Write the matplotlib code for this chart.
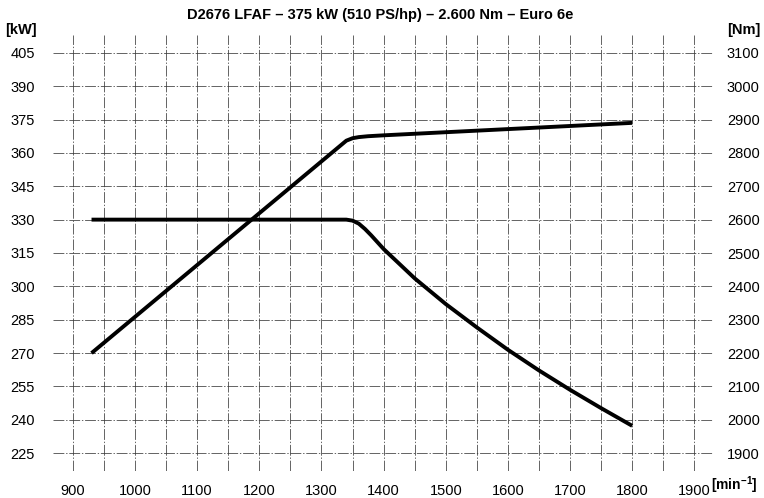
import matplotlib
matplotlib.use("Agg")
import matplotlib.pyplot as plt
import numpy as np

plt.rcParams['font.family'] = ['Liberation Sans', 'DejaVu Sans']

title = "D2676 LFAF \u2013 375 kW (510 PS/hp) \u2013 2.600 Nm \u2013 Euro 6e"

# Power curve (kW)
power_rpm = [930, 1340, 1350, 1360, 1375, 1400, 1500, 1600, 1700, 1800]
power_kw = [270, 365.5, 366.6, 367.1, 367.5, 367.9, 369.3, 370.7, 372.1, 373.5]

# Torque curve (Nm)
torque_rpm = [930, 1000, 1100, 1200, 1300, 1340, 1350, 1360, 1370, 1380, 1400,
              1450, 1500, 1550, 1600, 1650, 1700, 1750, 1800]
torque_nm = [2600, 2600, 2600, 2600, 2600, 2600, 2597, 2588, 2572, 2553, 2512,
             2424, 2347, 2277, 2210, 2148, 2090, 2035, 1982]

kw_ticks = list(range(225, 406, 15))
nm_ticks = list(range(1900, 3101, 100))
rpm_ticks = list(range(900, 1901, 100))

fig = plt.figure(figsize=(7.64, 4.98), dpi=100)
ax = fig.add_axes([53/764, 1-471/498, (713-53)/764, (471-35)/498])
ax2 = ax.twinx()

kw_lo, kw_hi = 217, 413
ax.set_ylim(kw_lo, kw_hi)
ax2.set_ylim(1900 + (kw_lo-225)*100/15, 1900 + (kw_hi-225)*100/15)
ax.set_xlim(868, 1930)

grid_kw = dict(color='#3a3a3a', lw=0.65, linestyle=(0, (12, 2, 1.5, 2)), alpha=0.85)
for y in kw_ticks:
    ax.axhline(y, **grid_kw, zorder=1)
for x in np.arange(900, 1901, 50):
    ax.axvline(x, **grid_kw, zorder=1)

ax.plot(power_rpm, power_kw, color='black', lw=2.8, solid_capstyle='butt',
        solid_joinstyle='round', zorder=3)
ax2.plot(torque_rpm, torque_nm, color='black', lw=2.8, solid_capstyle='butt',
         solid_joinstyle='round', zorder=3)

ax.set_yticks(kw_ticks)
ax.set_yticklabels([str(v) for v in kw_ticks])
ax2.set_yticks(nm_ticks)
ax2.set_yticklabels([str(v) for v in nm_ticks])
ax.set_xticks(rpm_ticks)
ax.set_xticklabels([str(v) for v in rpm_ticks])

ax.tick_params(axis='y', length=0, pad=13, labelsize=10.5)
ax2.tick_params(axis='y', length=0, pad=10, labelsize=10.5)
ax.tick_params(axis='x', length=0, pad=9, labelsize=10.5)

for a in (ax, ax2):
    for s in a.spines.values():
        s.set_visible(False)

fig.text(380/764, 1-15/498, title, ha='center', va='center', fontsize=10.5, fontweight='bold')
fig.text(5/764, 1-30/498, "[kW]", ha='left', va='center', fontsize=10.5, fontweight='bold')
fig.text(761/764, 1-30/498, "[Nm]", ha='right', va='center', fontsize=10.5, fontweight='bold')
fig.text(711/764, 1-485/498, "[min$^{\\mathregular{-1}}$]", ha='left', va='center', fontsize=10, fontweight='bold')

fig.savefig("out.png", dpi=100)
